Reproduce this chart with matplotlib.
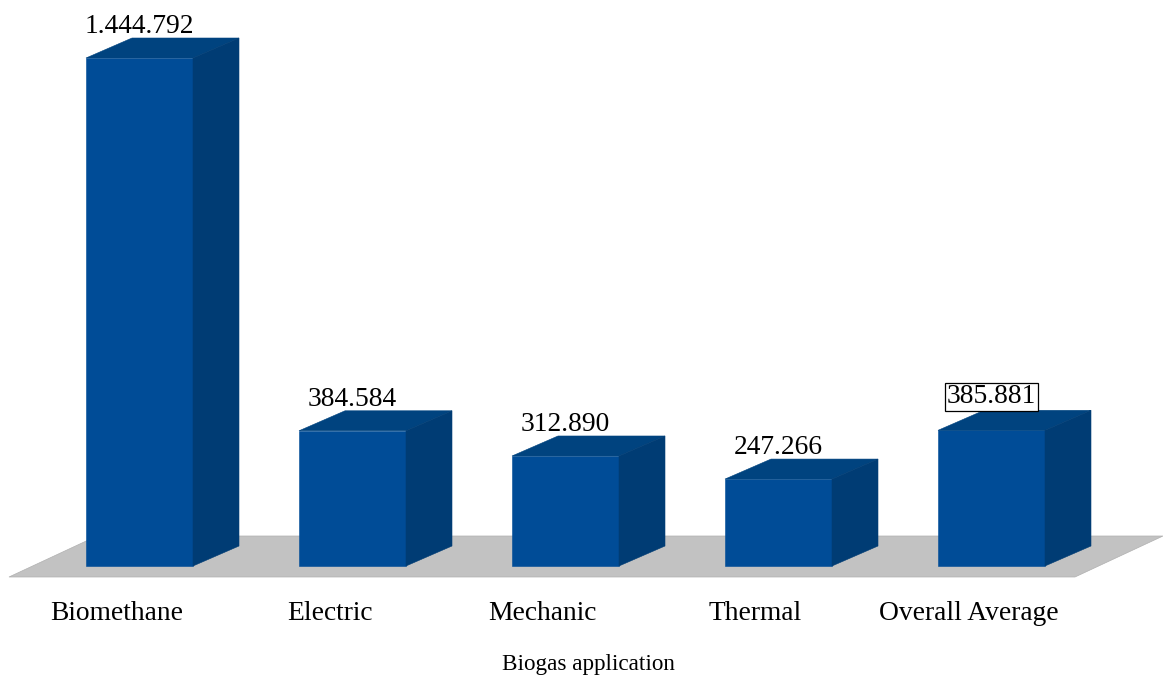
import matplotlib
matplotlib.use("Agg")
import matplotlib.pyplot as plt
from matplotlib.patches import Polygon

plt.rcParams['font.family'] = ['Liberation Serif', 'DejaVu Serif']

# Data
categories = ['Biomethane', 'Electric', 'Mechanic', 'Thermal', 'Overall Average']
values = [1444792, 384584, 312890, 247266, 385881]
value_labels = ['1.444.792', '384.584', '312.890', '247.266', '385.881']
axis_label = 'Biogas application'

FRONT = '#004c97'
TOP = '#00437f'
SIDE = '#003c74'
FLOOR = '#c2c2c2'

# Sizes in pixels, the figure is 1163x677 at dpi 100
WIDTH, HEIGHT = 1163, 677
FIRST_BAR = 86
BAR_STEP = 213
BAR_W = 107
BASE_Y = 566
DEPTH_X, DEPTH_Y = 46, 20
PX_PER_UNIT = 508 / 1444792

fig = plt.figure(figsize=(WIDTH / 100, HEIGHT / 100), dpi=100)
ax = fig.add_axes([0, 0, 1, 1])

# x in category steps, y in value units, the 3D offsets are converted to these
x_step = 1 / BAR_STEP
y_step = 1 / PX_PER_UNIT
ax.set_xlim(-FIRST_BAR * x_step, (WIDTH - FIRST_BAR) * x_step)
ax.set_ylim(-(HEIGHT - BASE_Y) * y_step, BASE_Y * y_step)
ax.axis('off')

dx = DEPTH_X * x_step
dy = DEPTH_Y * y_step
w = BAR_W * x_step


def add_face(points, color, z=2):
    ax.add_patch(Polygon(points, closed=True, facecolor=color, edgecolor=color, linewidth=0.4, zorder=z))


# Grey floor under the bars
floor_left = (9 - FIRST_BAR) * x_step
floor_right = (1075 - FIRST_BAR) * x_step
floor_low = -11 * y_step
floor_high = 30 * y_step
floor_shift = 88 * x_step
ax.add_patch(Polygon([(floor_left, floor_low), (floor_right, floor_low),
                      (floor_right + floor_shift, floor_high), (floor_left + floor_shift, floor_high)],
                     closed=True, facecolor=FLOOR, edgecolor='#b0b0b0', linewidth=0.5, zorder=1))

for i, (name, v, text) in enumerate(zip(categories, values, value_labels)):
    add_face([(i, 0), (i + w, 0), (i + w, v), (i, v)], FRONT, 3)
    add_face([(i, v), (i + w, v), (i + w + dx, v + dy), (i + dx, v + dy)], TOP, 3)
    add_face([(i + w, 0), (i + w + dx, dy), (i + w + dx, v + dy), (i + w, v)], SIDE, 3)

    # Value above the bar, the overall average gets a box
    box = None
    lift = 3.5
    if name == 'Overall Average':
        box = dict(boxstyle='square,pad=0.06', facecolor='white', edgecolor='black', linewidth=0.9)
        lift = 5
    ax.annotate(text, (i + w / 2, v + dy), xytext=(0, lift), textcoords='offset points',
                ha='center', va='baseline', fontsize=19.8, color='black', bbox=box, zorder=5)

    ax.annotate(name, (i + w / 2, 0), xytext=(-16.5, -39), textcoords='offset points',
                ha='center', va='baseline', fontsize=19.8, color='black')

ax.annotate(axis_label, (0.506, 0), xycoords='axes fraction', xytext=(0, 5), textcoords='offset points',
            ha='center', va='baseline', fontsize=16.7, color='black')

fig.savefig('out.png', dpi=100, facecolor='white')
